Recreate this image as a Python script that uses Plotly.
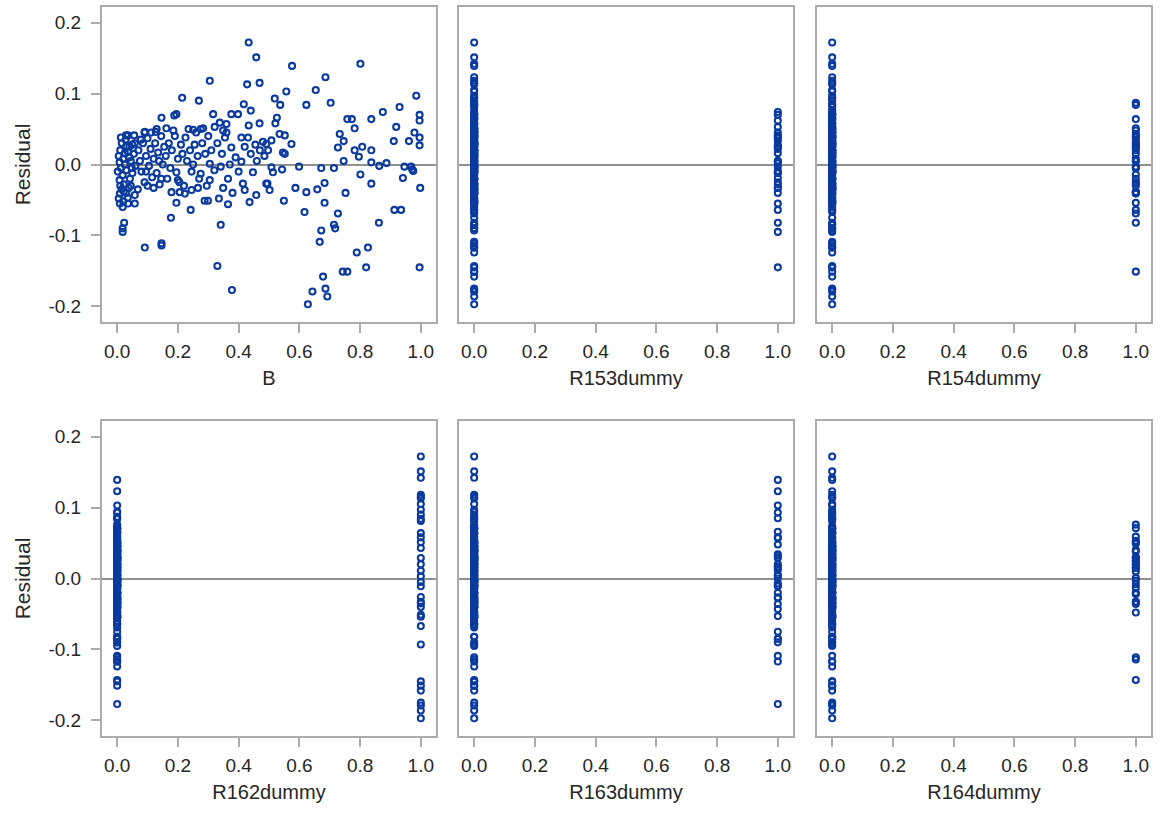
import plotly.graph_objects as go

# ---- data: (B, residual) observations grouped by region ----
base_pts = [
    (0.214, 0.094), (0.188, 0.069), (0.195, 0.071), (0.376, 0.071), (0.398, 0.071),
    (0.146, 0.066), (0.837, 0.064), (0.433, 0.055), (0.091, 0.046), (0.127, 0.046),
    (0.552, 0.041), (0.029, 0.041), (0.056, 0.041), (0.409, 0.038), (0.431, 0.038),
    (0.911, 0.033), (0.837, 0.020), (0.863, -0.002), (0.946, -0.003), (0.508, -0.004),
    (0.972, -0.007), (0.195, -0.011), (0.200, -0.022), (0.495, -0.027), (0.502, -0.036),
    (0.009, -0.041), (0.058, -0.043), (0.288, -0.051), (0.299, -0.051), (0.036, -0.055),
    (0.058, -0.055), (0.365, -0.056), (0.935, -0.064), (0.018, -0.090), (0.091, -0.117),
    (0.789, -0.124),
    (0.005, 0.012), (0.010, 0.020), (0.015, 0.030), (0.020, 0.008), (0.025, 0.000),
    (0.030, -0.008), (0.012, -0.005), (0.018, -0.015), (0.008, -0.022), (0.022, -0.028),
    (0.035, 0.018), (0.028, 0.035), (0.042, -0.020), (0.015, -0.035), (0.005, -0.048),
    (0.020, -0.052), (0.045, -0.030), (0.055, 0.015), (0.060, -0.002), (0.012, 0.038),
    (0.040, 0.010), (0.050, 0.028), (0.018, -0.060), (0.035, -0.047), (0.002, -0.010),
    (0.008, 0.003), (0.030, 0.026), (0.038, -0.033), (0.048, -0.005), (0.022, -0.038),
    (0.058, 0.030), (0.010, -0.030),
    (0.070, 0.020), (0.080, -0.010), (0.085, 0.030), (0.095, 0.012), (0.105, -0.002),
    (0.115, -0.018), (0.120, 0.008), (0.125, 0.030), (0.135, 0.017), (0.150, 0.000),
    (0.068, -0.035), (0.090, 0.045), (0.112, 0.045), (0.130, 0.050), (0.100, -0.030),
    (0.145, -0.020), (0.078, 0.035), (0.160, 0.012), (0.095, -0.010), (0.138, 0.005),
    (0.240, 0.020), (0.245, -0.010), (0.255, 0.028), (0.260, 0.045), (0.265, 0.012),
    (0.275, 0.050), (0.295, -0.030), (0.235, 0.050), (0.250, 0.000),
    (0.380, -0.040), (0.360, 0.045),
]

r153_pts = [
    (0.875, 0.074), (0.996, 0.070), (0.996, 0.062), (0.919, 0.053), (0.979, 0.045),
    (0.996, 0.038), (0.961, 0.033), (0.996, 0.027), (0.887, 0.002), (0.968, -0.003),
    (0.975, -0.009), (0.941, -0.019), (0.998, -0.033), (0.913, -0.064), (0.862, -0.082),
    (0.018, -0.095), (0.996, -0.145), (0.100, 0.037), (0.090, -0.025), (0.120, -0.033),
    (0.145, 0.040), (0.075, 0.005), (0.110, 0.022), (0.130, -0.012), (0.155, 0.025),
    (0.140, -0.028), (0.009, -0.055), (0.050, -0.012), (0.045, 0.005), (0.025, 0.016),
    (0.030, -0.040), (0.035, 0.041), (0.040, 0.025),
]

r154_pts = [
    (0.703, 0.087), (0.623, 0.084), (0.773, 0.064), (0.733, 0.043), (0.746, 0.033),
    (0.727, 0.024), (0.807, 0.025), (0.746, 0.005), (0.714, -0.005), (0.599, -0.003),
    (0.801, -0.014), (0.837, -0.027), (0.623, -0.039), (0.727, -0.069), (0.743, -0.151),
    (0.023, -0.082), (0.170, 0.030), (0.175, -0.005), (0.180, 0.020), (0.190, 0.040),
    (0.200, 0.008), (0.205, -0.025), (0.210, 0.028), (0.215, 0.015), (0.220, -0.030),
    (0.225, 0.038), (0.230, 0.005), (0.185, 0.048), (0.165, -0.020), (0.195, -0.054),
    (0.242, -0.064), (0.179, -0.039), (0.206, -0.039), (0.223, -0.041), (0.162, 0.051),
]

r162_pts = [
    (0.433, 0.172), (0.458, 0.151), (0.801, 0.142), (0.305, 0.118), (0.469, 0.115),
    (0.428, 0.113), (0.654, 0.105), (0.985, 0.097), (0.269, 0.090), (0.537, 0.084),
    (0.930, 0.081), (0.758, 0.064), (0.469, 0.058), (0.782, 0.051), (0.535, 0.043),
    (0.574, 0.029), (0.782, 0.020), (0.796, 0.011), (0.837, 0.003), (0.672, -0.005),
    (0.513, -0.011), (0.683, -0.026), (0.587, -0.033), (0.659, -0.035), (0.752, -0.040),
    (0.549, -0.051), (0.683, -0.054), (0.617, -0.067), (0.672, -0.093), (0.820, -0.145),
    (0.758, -0.151), (0.678, -0.158), (0.686, -0.175), (0.643, -0.179), (0.692, -0.186),
    (0.628, -0.197),
]

r163_pts = [
    (0.576, 0.139), (0.686, 0.123), (0.557, 0.103), (0.519, 0.093), (0.417, 0.085),
    (0.526, 0.066), (0.360, 0.057), (0.521, 0.058), (0.349, 0.048), (0.508, 0.034),
    (0.491, 0.029), (0.497, 0.020), (0.546, 0.017), (0.552, 0.015), (0.409, 0.004),
    (0.371, 0.000), (0.543, -0.007), (0.447, -0.011), (0.365, -0.020), (0.480, 0.032),
    (0.485, 0.012), (0.460, 0.005), (0.400, -0.010), (0.414, -0.027), (0.491, -0.027),
    (0.420, -0.036), (0.458, -0.043), (0.436, -0.053), (0.177, -0.075), (0.341, -0.085),
    (0.714, -0.085), (0.718, -0.090), (0.667, -0.109), (0.826, -0.117), (0.378, -0.177),
]

r164_pts = [
    (0.440, 0.076), (0.316, 0.071), (0.338, 0.059), (0.321, 0.053), (0.283, 0.051),
    (0.250, 0.049), (0.376, 0.024), (0.305, 0.001), (0.341, -0.003), (0.275, -0.013),
    (0.305, -0.022), (0.266, -0.033), (0.349, -0.033), (0.245, -0.036), (0.335, -0.048),
    (0.146, -0.111), (0.146, -0.114), (0.330, -0.143), (0.330, 0.030), (0.345, 0.015),
    (0.355, 0.038), (0.390, 0.010), (0.420, 0.025), (0.440, 0.015), (0.455, 0.028),
    (0.470, 0.020), (0.320, -0.008), (0.310, 0.020), (0.300, 0.040), (0.290, 0.015),
    (0.280, 0.030), (0.270, -0.020),
]

region_groups = [("base", base_pts), ("R153", r153_pts), ("R154", r154_pts),
                 ("R162", r162_pts), ("R163", r163_pts), ("R164", r164_pts)]
dummy_regions = ["R153", "R154", "R162", "R163", "R164"]
x_titles = ["B", "R153dummy", "R154dummy", "R162dummy", "R163dummy", "R164dummy"]
x_ticks = [0.0, 0.2, 0.4, 0.6, 0.8, 1.0]
y_ticks = [-0.2, -0.1, 0.0, 0.1, 0.2]

# ---- build the observation table ----
b_all, res_all, reg_all = [], [], []
for name, pts in region_groups:
    for b, r in pts:
        b_all.append(b)
        res_all.append(r)
        reg_all.append(name)

BLUE = "#0a3a9e"
FRAME = "#ababab"
REF = "#909090"
TEXT = "#262626"
FONT = "Liberation Sans, Arial, sans-serif"

fig = go.Figure()
marker = dict(symbol="circle-open", size=6, color=BLUE, line=dict(width=2.1, color=BLUE))

x_sets = [b_all] + [[1 if reg == d else 0 for reg in reg_all] for d in dummy_regions]
for i, xs in enumerate(x_sets):
    fig.add_trace(go.Scatter(
        x=xs, y=res_all, mode="markers", marker=marker, showlegend=False,
        xaxis="x" if i == 0 else f"x{i+1}", yaxis="y" if i == 0 else f"y{i+1}",
        hoverinfo="x+y",
    ))

W, H = 1161, 820
col_px = [(102, 436), (459, 793), (817, 1151)]
row_px = [(7, 322), (421, 736)]

layout = dict(
    width=W, height=H, margin=dict(l=0, r=0, t=0, b=0),
    paper_bgcolor="white", plot_bgcolor="white",
    font=dict(family=FONT, color=TEXT, size=19),
    showlegend=False,
)
for i in range(6):
    row, col = divmod(i, 3)
    cx = col_px[col]
    ry = row_px[row]
    xk = "xaxis" if i == 0 else f"xaxis{i+1}"
    yk = "yaxis" if i == 0 else f"yaxis{i+1}"
    layout[xk] = dict(
        domain=[cx[0] / W, cx[1] / W],
        anchor="y" if i == 0 else f"y{i+1}",
        range=[-0.05, 1.05], tickvals=x_ticks, ticktext=[f"{v:.1f}" for v in x_ticks],
        ticks="outside", ticklen=9, tickwidth=1.5, tickcolor=FRAME,
        ticklabelstandoff=2,
        showline=True, mirror=True, linecolor=FRAME, linewidth=2,
        showgrid=False, zeroline=False,
        title=dict(text=x_titles[i], font=dict(size=20, color=TEXT), standoff=10),
        tickfont=dict(size=19, color=TEXT),
    )
    layout[yk] = dict(
        domain=[1 - ry[1] / H, 1 - ry[0] / H],
        anchor="x" if i == 0 else f"x{i+1}",
        range=[-0.222, 0.222], tickvals=y_ticks, ticktext=[f"{v:.1f}" for v in y_ticks],
        ticks="outside" if col == 0 else "", ticklen=9, tickwidth=1.5, tickcolor=FRAME,
        ticklabelstandoff=6,
        showticklabels=(col == 0),
        showline=True, mirror=True, linecolor=FRAME, linewidth=2,
        showgrid=False, zeroline=True, zerolinecolor=REF, zerolinewidth=1.5,
        title=dict(text="Residual" if col == 0 else "", font=dict(size=21, color=TEXT), standoff=12),
        tickfont=dict(size=19, color=TEXT),
    )
fig.update_layout(**layout)
fig.write_html("out.html")
